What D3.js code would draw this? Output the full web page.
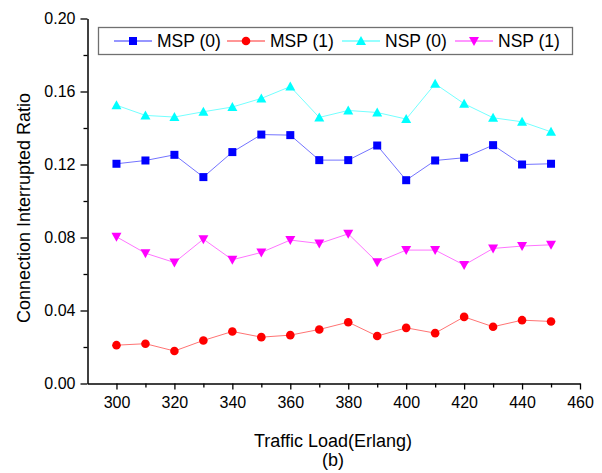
<!DOCTYPE html>
<html>
<head>
<meta charset="utf-8">
<script src="https://cdn.jsdelivr.net/npm/d3@7"></script>
<style>
  body { margin: 0; background: #fff; }
  svg { display: block; font-family: "Liberation Sans", Arial, sans-serif; }
</style>
</head>
<body>
<div id="chart"></div>
<script>
// dados (b)
const loads = [300, 310, 320, 330, 340, 350, 360, 370, 380, 390, 400, 410, 420, 430, 440, 450];
const msp0 = [0.1204, 0.1222, 0.1253, 0.1131, 0.1268, 0.1364, 0.1361, 0.1224, 0.1224, 0.1304, 0.1114, 0.1222, 0.1237, 0.1306, 0.1200, 0.1204];
const msp1 = [0.0210, 0.0218, 0.0178, 0.0236, 0.0285, 0.0254, 0.0265, 0.0296, 0.0336, 0.0260, 0.0305, 0.0276, 0.0365, 0.0311, 0.0347, 0.0340];
const nsp0 = [0.1525, 0.1469, 0.1460, 0.1489, 0.1515, 0.1562, 0.1627, 0.1458, 0.1496, 0.1485, 0.1449, 0.1642, 0.1533, 0.1456, 0.1434, 0.1379];
const nsp1 = [0.0804, 0.0714, 0.0663, 0.0791, 0.0678, 0.0718, 0.0786, 0.0767, 0.0820, 0.0665, 0.0731, 0.0731, 0.0649, 0.0740, 0.0753, 0.0760];
const seriesNames = ["MSP (0)", "MSP (1)", "NSP (0)", "NSP (1)"];
const xTicks = [300, 320, 340, 360, 380, 400, 420, 440, 460];
const xMinor = [310, 330, 350, 370, 390, 410, 430, 450];
const yTicks = [0.00, 0.04, 0.08, 0.12, 0.16, 0.20];
const yMinor = [0.02, 0.06, 0.10, 0.14, 0.18];

const width = 602, height = 473;
const series = [
  { name: seriesNames[0], values: msp0, color: "#0000ff", shape: "square" },
  { name: seriesNames[1], values: msp1, color: "#ff0000", shape: "circle" },
  { name: seriesNames[2], values: nsp0, color: "#00ffff", shape: "up" },
  { name: seriesNames[3], values: nsp1, color: "#ff00ff", shape: "down" },
];

const x = d3.scaleLinear().domain([290, 460]).range([87.5, 580]);
const y = d3.scaleLinear().domain([0, 0.2]).range([383.5, 18.5]);

const svg = d3.select("#chart").append("svg")
  .attr("width", width).attr("height", height);

// eixos
const xAxis = svg.append("g")
  .attr("transform", `translate(0,${y(0)})`)
  .call(d3.axisBottom(x).tickValues(xTicks).tickSize(6).tickSizeOuter(0).tickPadding(4));
svg.append("g")
  .attr("transform", `translate(0,${y(0)})`)
  .call(d3.axisBottom(x).tickValues(xMinor).tickSize(4).tickFormat("")).select(".domain").remove();

const yAxis = svg.append("g")
  .attr("transform", `translate(${x(290)},0)`)
  .call(d3.axisLeft(y).tickValues(yTicks).tickSize(7).tickSizeOuter(0).tickPadding(5)
    .tickFormat(d3.format(".2f")));
svg.append("g")
  .attr("transform", `translate(${x(290)},0)`)
  .call(d3.axisLeft(y).tickValues(yMinor).tickSize(4).tickFormat("")).select(".domain").remove();

svg.selectAll(".domain").attr("stroke", "#000").attr("stroke-width", 1.5);
svg.selectAll(".tick line").attr("stroke", "#000").attr("stroke-width", 1.3);
svg.selectAll(".tick text").attr("font-size", "16px").attr("fill", "#000")
  .attr("font-family", "Liberation Sans, Arial, sans-serif");
xAxis.selectAll(".tick text").attr("dy", "0.9em");

// titulos
svg.append("text")
  .attr("x", 333).attr("y", 447)
  .attr("text-anchor", "middle")
  .attr("font-size", "18px")
  .text("Traffic Load(Erlang)");
svg.append("text")
  .attr("x", 333).attr("y", 466)
  .attr("text-anchor", "middle")
  .attr("font-size", "18px")
  .text("(b)");
svg.append("text")
  .attr("transform", "translate(30,208) rotate(-90)")
  .attr("text-anchor", "middle")
  .attr("font-size", "18px")
  .text("Connection Interrupted Ratio");

function marker(g, shape, color) {
  if (shape === "square") {
    g.append("rect").attr("x", -4).attr("y", -4).attr("width", 8).attr("height", 8).attr("fill", color);
  } else if (shape === "circle") {
    g.append("circle").attr("r", 4.3).attr("fill", color);
  } else if (shape === "up") {
    g.append("path").attr("d", "M0,-5 L5,4 L-5,4 Z").attr("fill", color);
  } else {
    g.append("path").attr("d", "M0,5 L5,-4 L-5,-4 Z").attr("fill", color);
  }
}

const line = d3.line().x((d, i) => x(loads[i])).y(d => y(d));

series.forEach(s => {
  svg.append("path")
    .attr("d", line(s.values))
    .attr("fill", "none")
    .attr("stroke", s.color)
    .attr("stroke-opacity", 0.55)
    .attr("stroke-width", 1);
  svg.append("g").selectAll("g")
    .data(s.values)
    .join("g")
    .attr("transform", (d, i) => `translate(${x(loads[i])},${y(d)})`)
    .each(function () { marker(d3.select(this), s.shape, s.color); });
});

// legenda
svg.append("rect")
  .attr("x", 98.5).attr("y", 27.5).attr("width", 474).attr("height", 27)
  .attr("fill", "#fff").attr("stroke", "#707070").attr("stroke-width", 1.3);
const legendX = [133, 246, 361, 474];
series.forEach((s, i) => {
  const g = svg.append("g").attr("transform", `translate(${legendX[i]},41)`);
  g.append("line").attr("x1", -19).attr("x2", 19)
    .attr("stroke", s.color).attr("stroke-opacity", 0.55).attr("stroke-width", 1.3);
  marker(g, s.shape, s.color);
  g.append("text").attr("x", 24).attr("dy", "0.36em")
    .attr("font-size", "17.5px").text(s.name);
});
</script>
</body>
</html>
